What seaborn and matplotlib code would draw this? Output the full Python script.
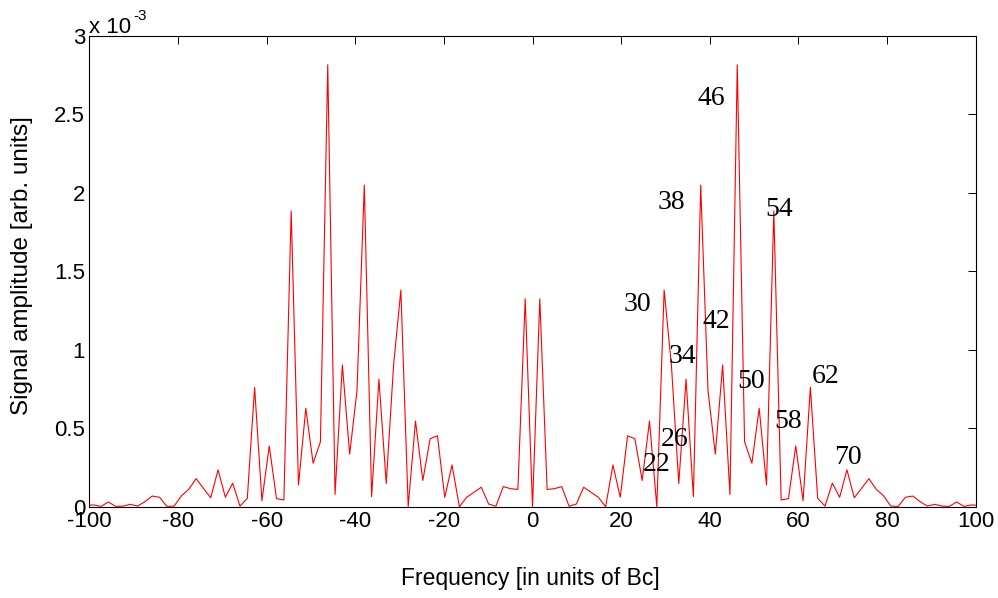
import numpy as np
import pandas as pd
import matplotlib
matplotlib.use("Agg")
import matplotlib.pyplot as plt
import seaborn as sns
from matplotlib.ticker import FuncFormatter

# Spectrum bins: index k, frequency = k * bin width (in units of Bc)
bin_index = np.arange(-61, 62)
bin_width = 1.65

# Signal amplitude in units of 1e-3 (arb. units)
amp_negative = [
    0.009, 0.011, 0.002, 0.030, 0.002, 0.004, 0.015, 0.004, 0.032, 0.068,
    0.060, 0.002, 0.004, 0.070, 0.111, 0.179, 0.117, 0.057, 0.235, 0.060,
    0.150, 0.004, 0.053, 0.760, 0.038, 0.387, 0.051, 0.043, 1.885, 0.138,
    0.627, 0.277, 0.414, 2.817, 0.078, 0.903, 0.335, 0.740, 2.050, 0.064,
    0.812, 0.148, 0.900, 1.381, 0.000, 0.546, 0.167, 0.433, 0.452, 0.060,
    0.266, 0.000, 0.060, 0.092, 0.124, 0.017, 0.003, 0.128, 0.115, 0.110,
    1.325,
]
amp_dc = [0.000]
amp_positive = [
    1.325, 0.110, 0.115, 0.128, 0.003, 0.017, 0.124, 0.092, 0.060, 0.000,
    0.266, 0.060, 0.452, 0.433, 0.167, 0.546, 0.000, 1.381, 0.900, 0.148,
    0.812, 0.064, 2.050, 0.740, 0.335, 0.903, 0.078, 2.817, 0.414, 0.277,
    0.627, 0.138, 1.885, 0.043, 0.051, 0.387, 0.038, 0.760, 0.053, 0.004,
    0.150, 0.060, 0.235, 0.057, 0.117, 0.179, 0.111, 0.070, 0.004, 0.002,
    0.060, 0.068, 0.032, 0.004, 0.015, 0.004, 0.002, 0.030, 0.002, 0.011,
    0.009,
]

# Harmonic labels next to the peaks
peak_labels = ["22", "26", "30", "34", "38", "42", "46", "50", "54", "58", "62", "70"]
# label placement (x centre, baseline) in data units
label_pos = [
    (28.1, 0.227), (32.0, 0.387), (23.6, 1.247), (33.8, 0.916),
    (31.25, 1.896), (41.5, 1.139), (40.3, 2.560), (49.4, 0.757),
    (55.6, 1.852), (57.6, 0.502), (66.1, 0.788), (71.1, 0.272),
]

freq = bin_index * bin_width
amp = amp_negative + amp_dc + amp_positive
df = pd.DataFrame({"freq": freq, "amp": amp})

sns.set_style("white")
plt.rcParams["font.family"] = ["Liberation Sans", "DejaVu Sans"]
plt.rcParams["axes.unicode_minus"] = False
plt.rcParams["text.color"] = "black"
plt.rcParams["axes.labelcolor"] = "black"

W, H = 998, 598
fig = plt.figure(figsize=(W / 100, H / 100), dpi=100)
fig.patch.set_facecolor("white")
ax = fig.add_axes([89.3 / W, 1 - 506.7 / H, 886.4 / W, 470.7 / H])

sns.lineplot(data=df, x="freq", y="amp", color="red", linewidth=0.8,
             estimator=None, ax=ax)

ax.set_xlim(-100, 100)
ax.set_ylim(0, 3)
ax.set_xticks(range(-100, 101, 20))
ax.set_yticks(np.arange(0, 3.01, 0.5))
ax.yaxis.set_major_formatter(FuncFormatter(lambda v, p: f"{v:g}"))
ax.tick_params(direction="in", length=5.5, width=0.7, top=True, right=True,
               labelsize=16, pad=3, colors="black")
for s in ax.spines.values():
    s.set_visible(True)
    s.set_color("black")
    s.set_linewidth(0.8)
ax.set_xlabel("")
ax.set_ylabel("")

fig.text(530 / W, 1 - 578 / H, "Frequency [in units of Bc]",
         ha="center", va="center", fontsize=16.5, color="black")
fig.text(22 / W, 1 - 266 / H, "Signal amplitude [arb. units]", rotation=90,
         ha="center", va="center", fontsize=17.5, color="black")
fig.text(89 / W, 1 - 33 / H, "x 10", ha="left", va="baseline", fontsize=16,
         color="black")
fig.text(133 / W, 1 - 20 / H, "-3", ha="left", va="baseline", fontsize=11,
         color="black")

for lab, (lx, ly) in zip(peak_labels, label_pos):
    ax.text(lx, ly, lab, ha="center", va="baseline", fontsize=20,
            color="black", family=["Liberation Serif", "DejaVu Serif"])

fig.savefig("out.png", dpi=100, facecolor="white")
